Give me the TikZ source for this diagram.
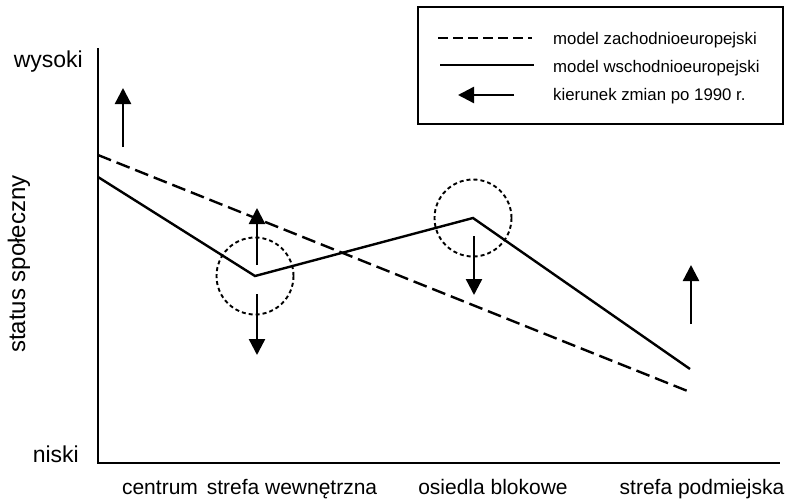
\documentclass[tikz,border=0pt]{standalone}
\usepackage{fontspec}
\setmainfont{Liberation Sans}
\usetikzlibrary{arrows.meta}
\tikzset{
  axisline/.style={line width=2.5pt},
  westline/.style={line width=2.4pt, dash pattern=on 14pt off 6pt},
  eastline/.style={line width=2.4pt},
  change/.style={line width=2.4pt, -{Triangle[length=16pt,width=16pt]}},
  zone/.style={circle, draw, line width=1.9pt, dash pattern=on 4pt off 3pt,
    minimum size=77pt, inner sep=0pt},
  axislabel/.style={font=\fontsize{23}{27}\selectfont, inner sep=0pt},
  ticklabel/.style={font=\fontsize{21}{25}\selectfont, inner sep=0pt, anchor=base},
  keylabel/.style={font=\fontsize{16.8}{20}\selectfont, inner sep=0pt, anchor=base west}
}
\begin{document}
\begin{tikzpicture}[x=1pt,y=-1pt]
  \useasboundingbox (0,0) rectangle (792,501);
  % axes
  \coordinate (top) at (98,48);
  \coordinate (origin) at (98,463);
  \coordinate (end) at (780,463);
  \draw[axisline] (top) -- (origin) -- (end);
  \node[axislabel, anchor=base east] (high) at (83,67) {wysoki};
  \node[axislabel, anchor=base east] (low) at (79,462) {niski};
  \node[axislabel, rotate=90, font=\fontsize{24}{28}\selectfont] (status) at (19,264) {status społeczny};
  \node[ticklabel] (centre) at (160,494) {centrum};
  \node[ticklabel] (inner) at (292,494) {strefa wewnętrzna};
  \node[ticklabel] (estates) at (493,494) {osiedla blokowe};
  \node[ticklabel] (suburb) at (702,494) {strefa podmiejska};
  % models
  \coordinate (w0) at (98,155);
  \coordinate (w1) at (690,392);
  \coordinate (e0) at (98,177);
  \coordinate (e1) at (255,276);
  \coordinate (e2) at (473,218);
  \coordinate (e3) at (690,369);
  \draw[westline] (w0) -- (w1);
  \draw[eastline] (e0) -- (e1) -- (e2) -- (e3);
  \node[zone] (innerzone) at (e1) {};
  \node[zone] (estatezone) at (e2) {};
  % changes after 1990
  \coordinate (c0a) at (123,147); \coordinate (c0b) at (123,88);
  \coordinate (c1a) at (257,265); \coordinate (c1b) at (257,208);
  \coordinate (c2a) at (257,294); \coordinate (c2b) at (257,355);
  \coordinate (c3a) at (474,236); \coordinate (c3b) at (474,295);
  \coordinate (c4a) at (691,324); \coordinate (c4b) at (691,265);
  \foreach \i in {0,...,4}
    \draw[change] (c\i a) -- (c\i b);
  % legend
  \node[draw, line width=1.4pt, minimum width=365pt, minimum height=117pt,
    inner sep=0pt] (legend) at (600.5,65.5) {};
  \coordinate (k1a) at (438,38); \coordinate (k1b) at (532,38);
  \coordinate (k2a) at (440,65); \coordinate (k2b) at (534,65);
  \coordinate (k3a) at (514,95); \coordinate (k3b) at (458,95);
  \draw[westline, dash pattern=on 10pt off 5pt] (k1a) -- (k1b);
  \draw[eastline] (k2a) -- (k2b);
  \draw[change] (k3a) -- (k3b);
  \node[keylabel] (westkey) at (553,44) {model zachodnioeuropejski};
  \node[keylabel] (eastkey) at (553,72) {model wschodnioeuropejski};
  \node[keylabel] (changekey) at (553,100) {kierunek zmian po 1990 r.};
\end{tikzpicture}
\end{document}
